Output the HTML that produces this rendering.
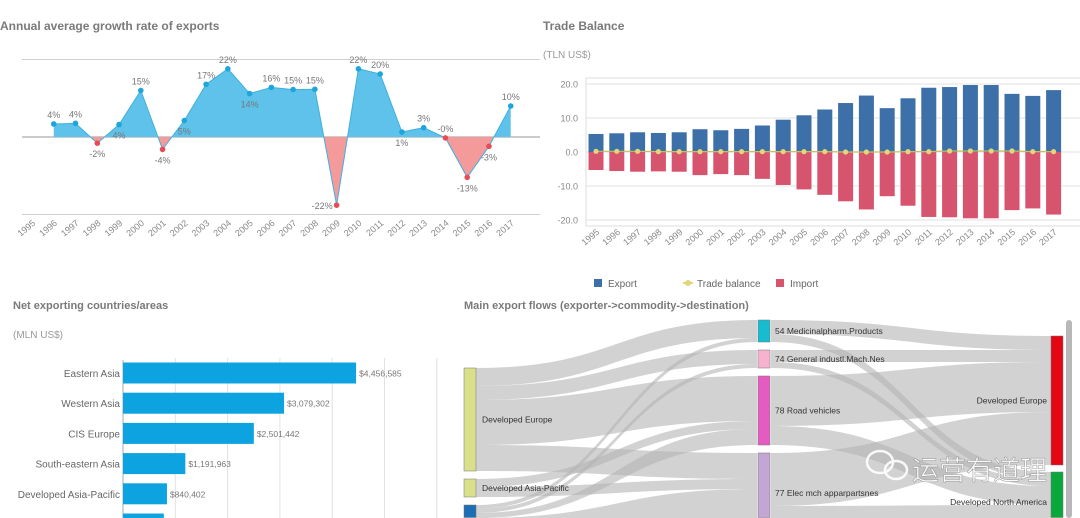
<!DOCTYPE html>
<html><head><meta charset="utf-8">
<style>
html,body{margin:0;padding:0;background:#fff;overflow:hidden;}
body{width:1080px;height:518px;overflow:hidden;font-family:"Liberation Sans","Noto Sans CJK SC",sans-serif;}
svg{display:block;overflow:hidden;}
svg text{font-family:"Liberation Sans","Noto Sans CJK SC",sans-serif;}
</style></head>
<body>
<svg id="s" width="1080" height="518" viewBox="0 0 1080 518" xmlns="http://www.w3.org/2000/svg">
  <defs><clipPath id="pageClip"><rect x="0" y="0" width="1080" height="518"/></clipPath></defs>
  <g clip-path="url(#pageClip)">
  <text x="0" y="30" font-size="12" font-weight="bold" fill="#7a7a7a">Annual average growth rate of exports</text>
  <g id="g1"></g>
  <text x="543" y="30" font-size="12" font-weight="bold" fill="#7a7a7a">Trade Balance</text>
  <text x="543" y="58" font-size="10" fill="#999">(TLN US$)</text>
  <g id="g2"></g>
  <g>
    <rect x="594" y="279" width="8" height="8" fill="#3d6fa8"/>
    <text x="608" y="287" font-size="10" fill="#666">Export</text>
    <line x1="683" y1="283" x2="693" y2="283" stroke="#e2d57a" stroke-width="2"/>
    <circle cx="688" cy="283" r="3" fill="#e2d57a"/>
    <text x="697" y="287" font-size="10" fill="#666">Trade balance</text>
    <rect x="776" y="279" width="8" height="8" fill="#d6546e"/>
    <text x="790" y="287" font-size="10" fill="#666">Import</text>
  </g>
  <text x="13" y="309" font-size="11" font-weight="bold" fill="#7a7a7a">Net exporting countries/areas</text>
  <text x="13" y="338" font-size="10" fill="#999">(MLN US$)</text>
  <g id="g3"></g>
  <text x="464" y="309" font-size="11" font-weight="bold" fill="#7a7a7a">Main export flows (exporter-&gt;commodity-&gt;destination)</text>
  <g id="g4"></g>
  <rect x="1066" y="320" width="6" height="198" rx="3" fill="#b8b8b8"/>
  <g opacity="0.9">
    <ellipse cx="880" cy="462" rx="13" ry="11" fill="none" stroke="#fff" stroke-width="2.5"/>
    <ellipse cx="896" cy="470" rx="11" ry="9" fill="none" stroke="#fff" stroke-width="2.5"/>
    <text x="912" y="480" font-size="27" fill="#fff" stroke="#999" stroke-width="0.6">运营有道理</text>
  </g>
  </g>
</svg>
<script>
// ---------- Chart 1: growth rate ----------
const growthYears = ['1995','1996','1997','1998','1999','2000','2001','2002','2003','2004','2005','2006','2007','2008','2009','2010','2011','2012','2013','2014','2015','2016','2017'];
const growthValues = [null,4.2,4.4,-2,4,15,-4,5.3,17,22,14,16,15.3,15.4,-22,22,20.3,1.6,3,-0.3,-13,-3,10];
const growthLabels = ['','4%','4%','-2%','4%','15%','-4%','5%','17%','22%','14%','16%','15%','15%','-22%','22%','20%','1%','3%','-0%','-13%','-3%','10%'];
const growthLabelSide = ['','a','a','b','b','a','b','b','a','a','b','a','a','a','l','a','a','b','a','a','b','b','a'];

const NS='http://www.w3.org/2000/svg';
function mk(tag, attrs, parent){const e=document.createElementNS(NS,tag);for(const k in attrs)e.setAttribute(k,attrs[k]);parent.appendChild(e);return e;}

(function(){
  const g=document.getElementById('g1');
  const x=i=>32+i*21.76, y=v=>137-v*3.1;
  [25,0,-25].forEach(v=>{
    const l=mk('line',{x1:22,x2:540,y1:y(v),y2:y(v),stroke:v===0?'#999':'#d0d0d0','stroke-width':1},g);
    
    
  });
  const defs=mk('defs',{},g);
  const c1=mk('clipPath',{id:'cpPos'},defs); mk('rect',{x:0,y:0,width:540,height:y(0)},c1);
  const c2=mk('clipPath',{id:'cpNeg'},defs); mk('rect',{x:0,y:y(0),width:540,height:200},c2);
  let pts=[]; let first=-1,last=-1;
  growthValues.forEach((v,i)=>{if(v!==null){if(first<0)first=i;last=i;pts.push(x(i)+','+y(v));}});
  const poly=x(first)+','+y(0)+' '+pts.join(' ')+' '+x(last)+','+y(0);
  const a1=mk('polygon',{points:poly,fill:'#5ec2ea','clip-path':'url(#cpPos)'},g);
  
  
  const a2=mk('polygon',{points:poly,fill:'#f59a9b','clip-path':'url(#cpNeg)'},g);
  
  
  const ln=mk('polyline',{points:pts.join(' '),fill:'none',stroke:'#3fb0e0','stroke-width':1},g);
  
  
  growthValues.forEach((v,i)=>{
    if(v!==null){
      const c=mk('circle',{cx:x(i),cy:y(v),r:2.8,fill:v<0?'#e94b55':'#1ea5dc'},g);
      
      
      const s=growthLabelSide[i];
      let tx=x(i),ty=s==='a'?y(v)-6:y(v)+14,anc='middle';
      if(s==='l'){tx=x(i)-4;ty=y(v)+4;anc='end';}
      const t=mk('text',{x:tx,y:ty,'font-size':9,fill:'#777','text-anchor':anc},g);
      t.textContent=growthLabels[i];
      
      
    }
    const yt=mk('text',{x:0,y:0,'font-size':9,fill:'#888','text-anchor':'end',transform:`translate(${x(i)+4},${224}) rotate(-40)`},g);
    yt.textContent=growthYears[i];
    
    
  });
})();

// ---------- Chart 2: trade balance ----------
const tradeYears = ['1995','1996','1997','1998','1999','2000','2001','2002','2003','2004','2005','2006','2007','2008','2009','2010','2011','2012','2013','2014','2015','2016','2017'];
const exportValues = [5.3,5.5,5.8,5.6,5.8,6.7,6.4,6.8,7.8,9.5,10.8,12.5,14.4,16.6,12.9,15.8,18.9,19.1,19.7,19.7,17.1,16.5,18.2];
const importValues = [-5.3,-5.6,-5.8,-5.7,-5.8,-6.8,-6.5,-6.8,-7.9,-9.7,-11.0,-12.6,-14.5,-16.9,-13.0,-15.8,-19.1,-19.2,-19.5,-19.5,-17.1,-16.6,-18.4];
const balanceValues = [0.2,0.2,0.2,0.1,0.1,0.1,0.1,0.1,0.1,0.1,0.1,0.1,0.0,0.0,0.0,0.1,0.1,0.3,0.3,0.3,0.3,0.1,0.1];
const tradeTicks = [20,10,0,-10,-20];
const tradeTickLabels = ['20.0','10.0','0.0','-10.0','-20.0'];

(function(){
  const g=document.getElementById('g2');
  const x=i=>596+i*20.8, y=v=>152-v*3.4;
  mk('line',{x1:586,x2:1080,y1:78,y2:78,stroke:'#ddd'},g);
  mk('line',{x1:586,x2:586,y1:78,y2:226,stroke:'#ddd'},g);
  mk('line',{x1:586,x2:1080,y1:226,y2:226,stroke:'#ddd'},g);
  tradeTicks.forEach((v,k)=>{
    const l=mk('line',{x1:586,x2:1080,y1:y(v),y2:y(v),stroke:'#e2e2e2'},g);
    
    
    const t=mk('text',{x:578,y:y(v)+3.5,'font-size':9,fill:'#888','text-anchor':'end'},g);
    t.textContent=tradeTickLabels[k];
    
    
  });
  tradeYears.forEach((yr,i)=>{
    const b=mk('rect',{x:x(i)-7.5,y:y(exportValues[i]),width:15,height:y(0)-y(exportValues[i]),fill:'#3d6fa8'},g);
    
    
    const r=mk('rect',{x:x(i)-7.5,y:y(0),width:15,height:y(importValues[i])-y(0),fill:'#d6546e'},g);
    
    
    const t=mk('text',{x:0,y:0,'font-size':9,fill:'#888','text-anchor':'end',transform:`translate(${x(i)+4},${233}) rotate(-40)`},g);
    t.textContent=yr;
    
    
  });
  const bl=mk('polyline',{points:balanceValues.map((v,i)=>x(i)+','+y(v)).join(' '),fill:'none',stroke:'#c9bf5a','stroke-width':1.2},g);
  
  
  balanceValues.forEach((v,i)=>{
    const c=mk('circle',{cx:x(i),cy:y(v),r:2.6,fill:'#e2d57a'},g);
    
    
  });
})();

// ---------- Chart 3: net exporters ----------
const regionNames = ['Eastern Asia','Western Asia','CIS Europe','South-eastern Asia','Developed Asia-Pacific','Other'];
const regionValues = [4456585,3079302,2501442,1191963,840402,780000];
const regionLabels = ['$4,456,585','$3,079,302','$2,501,442','$1,191,963','$840,402',''];

(function(){
  const g=document.getElementById('g3');
  const x=v=>123+v/1e6*52.3, yc=i=>373+i*30.2;
  for(let k=1;k<=6;k++){
    const l=mk('line',{x1:x(k*1e6),x2:x(k*1e6),y1:358,y2:518,stroke:'#e2e2e2'},g);
    
    
  }
  mk('line',{x1:123,x2:123,y1:360,y2:518,stroke:'#aaa'},g);
  regionValues.forEach((v,i)=>{
    const top=yc(i)-10.5, h=Math.min(21, 518-top);
    const b=mk('rect',{x:123,y:top,width:x(v)-123,height:h,fill:'#0ca3e0'},g);
    
    
    if(i<5){
      const t=mk('text',{x:120,y:yc(i)+4,'font-size':10,fill:'#666','text-anchor':'end'},g);
      t.textContent=regionNames[i];
      
      
      const vl=mk('text',{x:x(v)+3,y:yc(i)+3.5,'font-size':8.5,fill:'#777'},g);
      vl.textContent=regionLabels[i];
      
      
    }
  });
})();

// ---------- Chart 4: sankey ----------
const leftNodes = ['Developed Europe','Developed Asia-Pacific','Eastern Asia'];
const midNodes = ['54 Medicinalpharm.Products','74 General industl.Mach.Nes','78 Road vehicles','77 Elec mch apparpartsnes'];
const rightNodes = ['Developed Europe','Developed North America'];
const leftNodeValues = [103,18,68];
const midNodeValues = [22,18,69,80];
const rightNodeValues = [129,60];
const flowsLM = [[0,0,18],[0,1,14],[0,2,45],[0,3,26],[1,2,8],[1,3,10],[2,0,4],[2,1,4],[2,2,16],[2,3,44]];
const flowsMR = [[0,0,14],[0,1,8],[1,0,12],[1,1,6],[2,0,50],[2,1,19],[3,0,53],[3,1,27]];

(function(){
  const g=document.getElementById('g4');
  const colL=['#d9df8a','#d9df8a','#1a6fb5'], colM=['#17bccf','#f6b3d0','#e35cbf','#c4a6d4'], colR=['#e30613','#0aa83a'];
  function stack(vals,y0,gap){let y=y0;return vals.map(v=>{const r=[y,y+v];y+=v+gap;return r;});}
  const L=stack(leftNodeValues,368,8), M=stack(midNodeValues,320,8), R=stack(rightNodeValues,336,7);
  const cl=v=>Math.min(v,518);
  function band(x0,a0,a1,x1,b0,b1){const m=(x0+x1)/2;
    a0=cl(a0);a1=cl(a1);b0=cl(b0);b1=cl(b1);
    return `M${x0},${a0} C${m},${a0} ${m},${b0} ${x1},${b0} L${x1},${b1} C${m},${b1} ${m},${a1} ${x0},${a1} Z`;}
  const lOff=L.map(r=>r[0]), mInOff=M.map(r=>r[0]);
  flowsLM.forEach(f=>{
    const v=f[2], p=mk('path',{d:band(476,lOff[f[0]],lOff[f[0]]+v,757,mInOff[f[1]],mInOff[f[1]]+v),fill:'#b4b4b4','fill-opacity':0.6},g);
    lOff[f[0]]+=v; mInOff[f[1]]+=v;
    
    
  });
  const mOff=M.map(r=>r[0]), rOff=R.map(r=>r[0]);
  flowsMR.forEach(f=>{
    const v=f[2], p=mk('path',{d:band(771,mOff[f[0]],mOff[f[0]]+v,1051,rOff[f[1]],rOff[f[1]]+v),fill:'#b4b4b4','fill-opacity':0.6},g);
    mOff[f[0]]+=v; rOff[f[1]]+=v;
    
    
  });
  function nodes(list,pos,x,cols,labelX,anchor){
    list.forEach((n,i)=>{
      const top=pos[i][0], bot=Math.min(pos[i][1],517.5);
      const r=mk('rect',{x:x,y:top,width:12,height:bot-top,fill:cols[i],stroke:'#777','stroke-width':0.5},g);
      
      
      if(n!=='Eastern Asia'){
        const cy=Math.min((pos[i][0]+pos[i][1])/2, 510)+3;
        const t=mk('text',{x:labelX,y:cy,'font-size':8.5,fill:'#333','text-anchor':anchor},g);
        t.textContent=n;
        
        
      }
    });
  }
  nodes(leftNodes,L,464,colL,482,'start');
  nodes(midNodes,M,758,colM,775,'start');
  nodes(rightNodes,R,1051,colR,1047,'end');
})();
</script>
</body></html>
